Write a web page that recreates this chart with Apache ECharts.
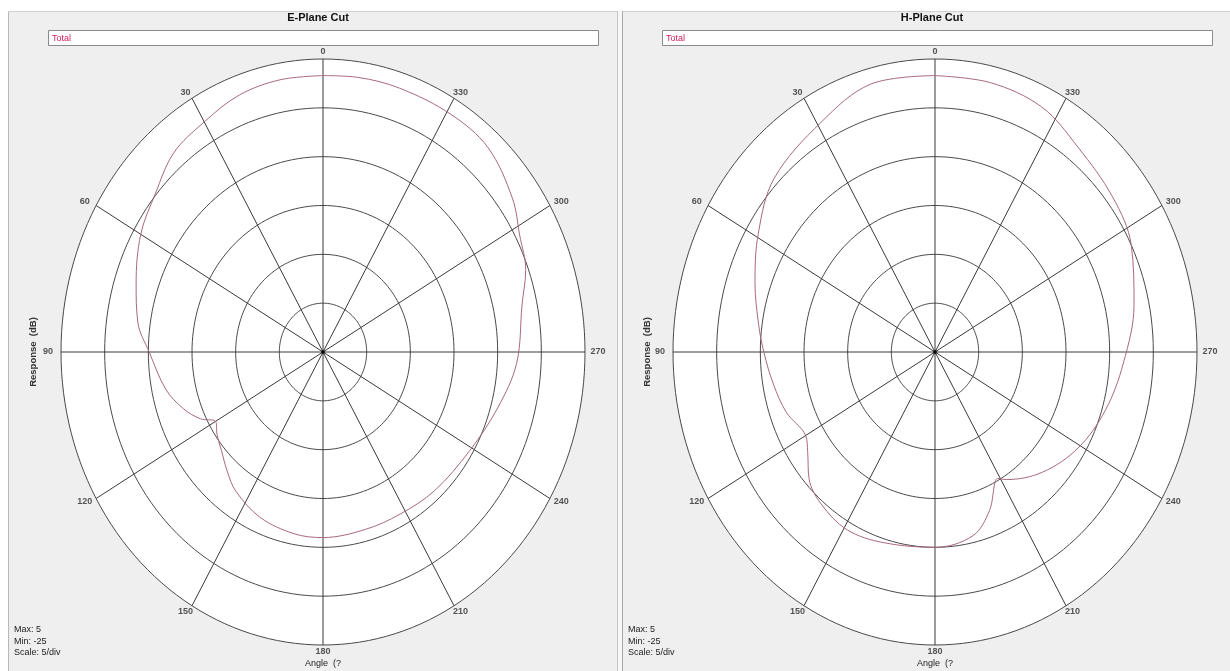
<!DOCTYPE html>
<html><head><meta charset="utf-8">
<script src="https://cdn.jsdelivr.net/npm/echarts@6/dist/echarts.min.js"></script>
<style>html,body{margin:0;padding:0;background:#fff;}#c{width:1230px;height:671px;}</style>
</head><body><div id="c"></div>
<script>
// ---- data ----
const angleTicks = [0,30,60,90,120,150,180,210,240,270,300,330];
const ringValues = [-20,-15,-10,-5,0,5];
const rMin = -25, rMax = 5;
const titles = ['E-Plane Cut','H-Plane Cut'];
const seriesName = 'Total';
const infoLines = ['Max: 5','Min: -25','Scale: 5/div'];
const eAngles = [0,10,20,30,40,50,60,72,82,90,102,110,116,120,125,131,138,145,157,170,180,195,208,222,239,254,267,282,290,298,306,318,329,342,352,360];
const eValues = [3.3,3.3,3.0,2.2,1.6,0.1,-0.9,-2.5,-3.6,-5.1,-6.6,-8.0,-9.4,-10.8,-10.2,-9.6,-8.6,-7.6,-6.6,-6.1,-6.0,-6.2,-6.2,-5.9,-5.4,-4.2,-2.8,-1.7,-0.3,0.5,1.8,3.2,3.4,3.4,3.4,3.3];
const hAngles = [0,15,29,46,59,71,82,90,100,110,120,125,132,140,151,163,180,193,201,209,212,225,239,253,267,282,296,308,322,334,347,360];
const hValues = [3.3,3.4,1.9,0.6,-1.4,-3.2,-4.6,-5.4,-6.2,-6.9,-7.9,-7.2,-5.6,-4.7,-4.2,-4.6,-5.0,-5.7,-7.6,-10.2,-9.6,-7.6,-5.9,-4.6,-3.4,-1.7,0.0,0.8,1.6,2.9,3.3,3.3];

// ---- helpers ----
function toXY(a, v){ const r = v - rMin; const t = a*Math.PI/180; return [-r*Math.sin(t), r*Math.cos(t)]; }
const R = rMax - rMin;
const LBL_FONT = "'Liberation Sans Narrow','Arial Narrow','Liberation Sans',Arial,sans-serif";

const centers = [323, 935];
const rx = 262, ry = 293, cy = 352;
const panelOff = [8, 622];

const grids = [], xAxes = [], yAxes = [], series = [], titleC = [], legends = [];
const curves = [[eAngles,eValues],[hAngles,hValues]];

for (let k=0;k<2;k++){
  grids.push({left: centers[k]-rx, top: cy-ry, width: 2*rx, height: 2*ry});
  xAxes.push({type:'value', gridIndex:k, min:-R, max:R, show:false});
  yAxes.push({type:'value', gridIndex:k, min:-R, max:R, show:false});
  const ax = {xAxisIndex:k, yAxisIndex:k};
  // white disk
  series.push(Object.assign({type:'custom', coordinateSystem:'cartesian2d', silent:true, z:1,
    data:[[rMax]],
    renderItem:(p, api)=>{ const pts=[]; for(let a=0;a<360;a+=2) pts.push(api.coord(toXY(a, api.value(0))));
      return {type:'polygon', shape:{points:pts}, style:{fill:'#ffffff', stroke:null}}; }}, ax));
  // rings
  series.push(Object.assign({type:'custom', coordinateSystem:'cartesian2d', silent:true, z:2,
    data:ringValues.map(v=>[v]),
    renderItem:(p, api)=>{ const pts=[]; for(let a=0;a<=360;a+=2) pts.push(api.coord(toXY(a, api.value(0))));
      return {type:'polyline', shape:{points:pts}, style:{stroke:'#4a4a4a', lineWidth:1, fill:null}}; }}, ax));
  // spokes
  series.push(Object.assign({type:'custom', coordinateSystem:'cartesian2d', silent:true, z:2,
    data:angleTicks.map(a=>[a]),
    renderItem:(p, api)=>{ const c0=api.coord([0,0]); const c1=api.coord(toXY(api.value(0), rMax));
      return {type:'line', shape:{x1:c0[0],y1:c0[1],x2:c1[0],y2:c1[1]}, style:{stroke:'#3a3a3a', lineWidth:1}}; }}, ax));
  // angle labels
  series.push(Object.assign({type:'scatter', silent:true, z:3, symbolSize:1, itemStyle:{color:'rgba(0,0,0,0)'},
    data:angleTicks.map(a=>{ const t=a*Math.PI/180; return {name:String(a), value:toXY(a,rMax),
      label:{offset:[-Math.sin(t)*13, -Math.cos(t)*7]}}; }),
    label:{show:true, position:'inside', formatter:'{b}', color:'#2a2a2a', fontSize:9, fontWeight:'bold', fontFamily:LBL_FONT, align:'center', verticalAlign:'middle'}}, ax));
  // centre dot
  series.push(Object.assign({type:'scatter', silent:true, z:5, symbolSize:4, itemStyle:{color:'#000'}, data:[[0,0]]}, ax));
  // response curve
  const [ang, val] = curves[k];
  series.push(Object.assign({type:'line', name:seriesName, z:4, smooth:0.35, symbol:'none',
    lineStyle:{color:'#a86a7c', width:1}, itemStyle:{color:'#d0205a'},
    data:ang.map((a,i)=>toXY(a,val[i]))}, ax));

  titleC.push({text:titles[k], left:panelOff[k] + 305, top:7, textAlign:'center',
    textStyle:{fontSize:11, fontWeight:'bold', color:'#111', fontFamily:"'Liberation Sans',Arial,sans-serif"}});
  legends.push({data:[seriesName], left:panelOff[k]+38, top:29, icon:'rect', itemWidth:0, itemHeight:0, itemGap:0, selectedMode:false,
    textStyle:{color:'#d0205a', fontSize:9, fontFamily:LBL_FONT, padding:[0,0,0,-4]}});
}

// ---- frame graphics ----
const graphics = [
  {type:'rect', shape:{x:8, y:11, width:1222, height:660}, style:{fill:'#efefef'}, z:-10},
  {type:'line', shape:{x1:8.5,y1:11,x2:8.5,y2:671}, style:{stroke:'#b8b8b8'}, z:-9},
  {type:'line', shape:{x1:8,y1:11.5,x2:1230,y2:11.5}, style:{stroke:'#d0d0d0'}, z:-9},
  {type:'rect', shape:{x:617, y:11, width:5, height:660}, style:{fill:'#f7f7f7'}, z:-9},
  {type:'line', shape:{x1:617.5,y1:11,x2:617.5,y2:671}, style:{stroke:'#c4c4c4'}, z:-9},
  {type:'line', shape:{x1:622.5,y1:11,x2:622.5,y2:671}, style:{stroke:'#a8a8a8'}, z:-9}
];
for (let k=0;k<2;k++){
  const o = panelOff[k];
  graphics.push({type:'rect', shape:{x:o+40.5, y:30.5, width:550, height:15}, style:{fill:'#fff', stroke:'#8a8a8a', lineWidth:1}, z:-5});
  graphics.push({type:'text', x:o+25, y:cy, rotation:Math.PI/2,
    style:{text:'Response  (dB)', fill:'#333', font:"bold 9.5px 'Liberation Sans',Arial,sans-serif", align:'center', verticalAlign:'middle'}});
  infoLines.forEach((t,i)=>graphics.push({type:'text', x:o+6, y:630+i*11.5,
    style:{text:t, fill:'#222', font:"9px "+LBL_FONT, align:'left', verticalAlign:'middle'}}));
  graphics.push({type:'text', x:centers[k], y:664,
    style:{text:'Angle  (?', fill:'#222', font:"9px "+LBL_FONT, align:'center', verticalAlign:'middle'}});
}

const chart = echarts.init(document.getElementById('c'));
chart.setOption({
  animation:false,
  backgroundColor:'#ffffff',
  title:titleC, legend:legends, grid:grids, xAxis:xAxes, yAxis:yAxes,
  graphic:graphics, series:series
});
</script></body></html>
